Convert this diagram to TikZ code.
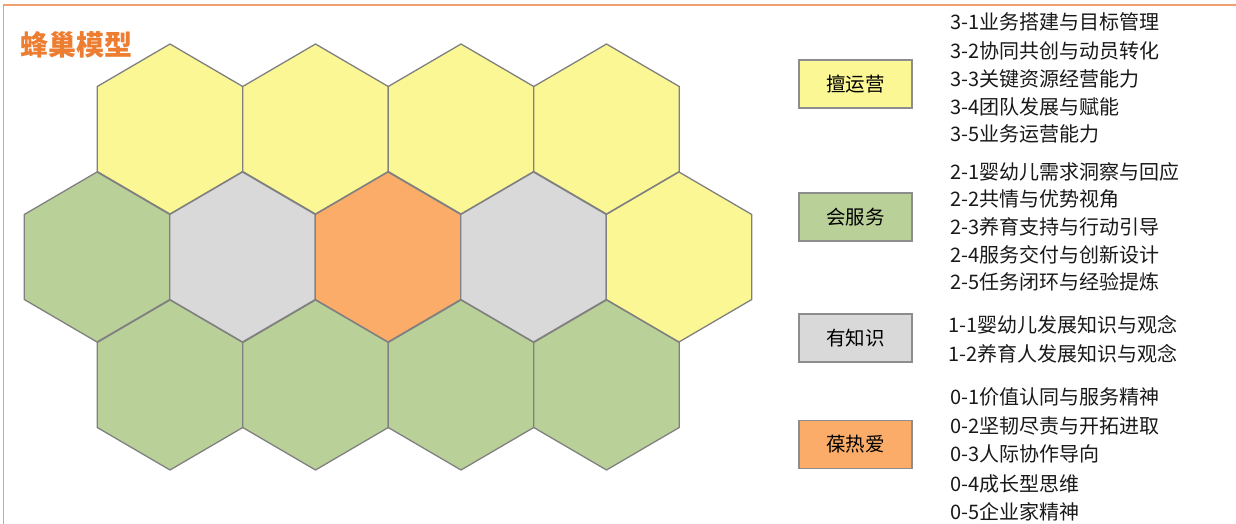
\documentclass[tikz,border=0pt]{standalone}
\usepackage{fontspec}
\setmainfont{Noto Sans CJK SC}
\definecolor{hy}{HTML}{FBF795}
\definecolor{hg}{HTML}{B9D198}
\definecolor{hs}{HTML}{D9D9D9}
\definecolor{ho}{HTML}{FAAC68}
\definecolor{edge}{HTML}{808080}
\definecolor{ttl}{HTML}{ED7D31}
\definecolor{frm}{HTML}{F0A070}
\begin{document}
\begin{tikzpicture}[x=1pt,y=-1pt,
  hexcell/.style={draw=edge,line width=1.3pt,line join=round},
  legbox/.style={draw=edge!90,line width=1.8pt,minimum width=113pt,minimum height=48pt,inner sep=0pt,font=\fontsize{19.5}{19.5}\selectfont},
  item/.style={anchor=west,inner sep=0pt,font=\fontsize{20}{20}\selectfont,text=black!90}]
\useasboundingbox (0,0) rectangle (1236,524);
% frame
\draw[frm,line width=1.5pt] (3.5,524) -- (3.5,5) -- (1236,5);
% title
\node[anchor=center,inner sep=0pt,text=ttl,font=\fontsize{28}{28}\selectfont\bfseries] (title) at (76.5,45) {蜂巢模型};
% hexagons
\def\hw{72.75}
\def\hr{85}
\def\hh{42.5}
\foreach \cx/\cy/\c in {170/129/hy,315.5/129/hy,461/129/hy,606.5/129/hy,
  97/257/hg,242.5/257/hs,388/257/ho,533.5/257/hs,679/257/hy,
  170/385/hg,315.5/385/hg,461/385/hg,606.5/385/hg}{
  \path[hexcell,fill=\c] (\cx,\cy-\hr) -- (\cx+\hw,\cy-\hh) -- (\cx+\hw,\cy+\hh) -- (\cx,\cy+\hr) -- (\cx-\hw,\cy+\hh) -- (\cx-\hw,\cy-\hh) -- cycle;
}
% legend boxes
\node[legbox,fill=hy] (l3) at (855.5,84) {擅运营};
\node[legbox,fill=hg] (l2) at (855.5,217) {会服务};
\node[legbox,fill=hs] (l1) at (855.5,338) {有知识};
\node[legbox,fill=ho] (l0) at (855.5,444.5) {葆热爱};
% items
\node[item] (a31) at (950,22) {3-1业务搭建与目标管理};
\node[item] (a32) at (950,51) {3-2协同共创与动员转化};
\node[item] (a33) at (950,79) {3-3关键资源经营能力};
\node[item] (a34) at (950,107) {3-4团队发展与赋能};
\node[item] (a35) at (950,134) {3-5业务运营能力};
\node[item] (a21) at (950,172) {2-1婴幼儿需求洞察与回应};
\node[item] (a22) at (950,199) {2-2共情与优势视角};
\node[item] (a23) at (950,227) {2-3养育支持与行动引导};
\node[item] (a24) at (950,255) {2-4服务交付与创新设计};
\node[item] (a25) at (950,282) {2-5任务闭环与经验提炼};
\node[item] (a11) at (948,325) {1-1婴幼儿发展知识与观念};
\node[item] (a12) at (948,354) {1-2养育人发展知识与观念};
\node[item] (a01) at (950,397) {0-1价值认同与服务精神};
\node[item] (a02) at (950,426) {0-2坚韧尽责与开拓进取};
\node[item] (a03) at (950,454) {0-3人际协作导向};
\node[item] (a04) at (950,484) {0-4成长型思维};
\node[item] (a05) at (950,512) {0-5企业家精神};
\end{tikzpicture}
\end{document}
